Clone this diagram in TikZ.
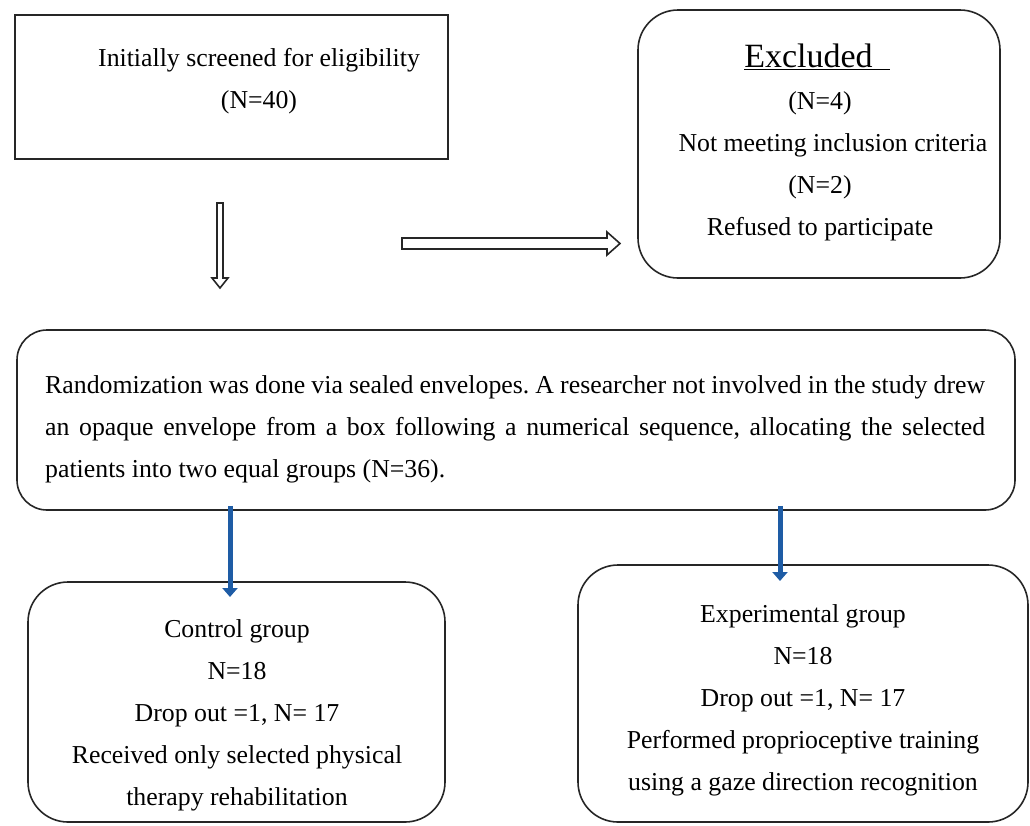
\documentclass[tikz,border=0pt]{standalone}
\usepackage{fontspec}
\setmainfont{Liberation Serif}
\usetikzlibrary{arrows.meta}
\definecolor{arrowblue}{RGB}{30,92,165}
\frenchspacing
\newcommand{\tx}{\fontsize{25.8}{42}\selectfont}
\newcommand{\bigtx}{\fontsize{34}{40}\selectfont}
\tikzset{
  box/.style={draw=black!85, line width=1.6pt, inner sep=0pt},
  rbox/.style={box, rounded corners=40pt},
  txt/.style={font=\tx, inner sep=0pt, align=center, anchor=north},
  hollow/.style={draw=black!85, line width=1.6pt, fill=white},
  blue arrow/.style={draw=arrowblue, line width=5pt, -{Triangle[length=9pt,width=15pt]}}
}

\begin{document}
\begin{tikzpicture}[x=1pt,y=-1pt]
   \useasboundingbox (0,0) rectangle (1030,825);
   % boxes
   \node[box, minimum width=433, minimum height=144] (screen) at (231.5, 87) {};
   \node[rbox, minimum width=362, minimum height=268] (excl) at (819, 144) {};
   \node[rbox, rounded corners=30pt, minimum width=998, minimum height=180] (rand) at (516, 420) {};
   \node[rbox, minimum width=417, minimum height=240] (ctrl) at (236.5, 702) {};
   \node[rbox, minimum width=450, minimum height=257] (expt) at (803, 693.5) {};
   % texts
   \node[txt] (screentext) at (259, 48)
      {Initially screened for eligibility\\(N=40)};
   \node[font=\bigtx, inner sep=0pt] (excltitle) at (817, 57) {\underline{Excluded\hspace{0.5em}}};
   \node[txt] (excltext) at (820, 91)
      {(N=4)\\\hspace{1em}Not meeting inclusion criteria\\(N=2)\\Refused to participate};
   \node[font=\tx, inner sep=0pt, anchor=north west, text width=940, align=justify] (randtext) at (45, 375)
      {Randomization was done via sealed envelopes. A researcher not involved in the study drew\linebreak
       an opaque envelope from a box following a numerical sequence, allocating the selected\linebreak
       patients into two equal groups (N=36).};
   \node[txt] (ctrltext) at (237, 619)
      {Control group\\N=18\\Drop out =1, N= 17\\Received only selected physical\\therapy rehabilitation};
   \node[txt] (expttext) at (803, 604)
      {Experimental group\\N=18\\Drop out =1, N= 17\\Performed proprioceptive training\\using a gaze direction recognition};
   % hollow arrows
   \draw[hollow] (217,203) -- (223,203) -- (223,278) -- (228,278) -- (220,288)
      -- (212,278) -- (217,278) -- cycle;
   \draw[hollow] (402,238) -- (607,238) -- (607,232) -- (620,243.5) -- (607,255)
      -- (607,249) -- (402,249) -- cycle;
   % blue arrows
   \coordinate (ctip) at (230, 597);
   \coordinate (etip) at (780, 581);
   \draw[blue arrow] ([yshift=5pt]rand.south -| ctip) -- (ctip);
   \draw[blue arrow] ([yshift=5pt]rand.south -| etip) -- (etip);
\end{tikzpicture}
\end{document}
